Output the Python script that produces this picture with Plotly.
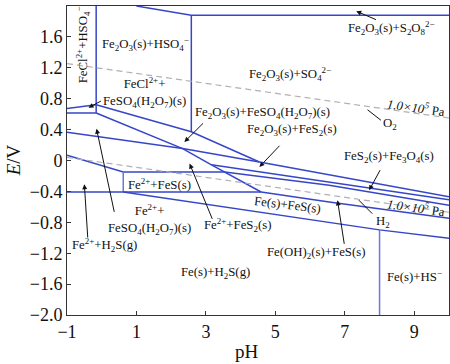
import plotly.graph_objects as go

# ---------------- data (pH, E/V) ----------------
top_ph = [1.0, 2.58, 10.0]
top_E = [2.0, 1.88, 1.88]
v258_ph = [2.58, 2.58]
v258_E = [1.88, 0.372]
v016_ph = [-0.16, -0.16]
v016_E = [2.0, 0.615]
wedge_top_ph = [-1.0, -0.16]
wedge_top_E = [0.672, 0.722]
wedge_bot_ph = [-1.0, -0.16]
wedge_bot_E = [0.615, 0.615]
lineAp_ph = [-0.16, 2.58, 4.54]
lineAp_E = [0.722, 0.372, -0.019]
lineB_ph = [-1.0, 2.33, 4.54]
lineB_E = [0.365, 0.154, -0.019]
lineA_ph = [-0.16, 2.33, 3.16, 4.59]
lineA_E = [0.615, 0.154, -0.056, -0.408]
lineR1_ph = [4.54, 10.0]
lineR1_E = [-0.019, -0.47]
lineP_ph = [3.16, 6.55, 10.0]
lineP_E = [-0.056, -0.279, -0.509]
lineC_ph = [-1.0, 0.62, 3.54, 6.55, 10.0]
lineC_E = [0.067, -0.149, -0.149, -0.321, -0.58]
boxleft_ph = [0.62, 0.62]
boxleft_E = [-0.149, -0.408]
bottom_ph = [-1.0, 4.59, 6.55, 10.0]
bottom_E = [-0.408, -0.408, -0.538, -0.749]
lineD_ph = [0.62, 8.0, 10.0]
lineD_E = [-0.408, -0.898, -1.008]
v8_ph = [8.0, 8.0]
v8_E = [-0.898, -2.0]
o2_ph = [-1.0, 10.0]
o2_E = [1.255, 0.55]
h2_ph = [-1.0, 10.0]
h2_E = [0.04, -0.67]

x_ticks = [-1, 1, 3, 5, 7, 9]
y_ticks = [-2.0, -1.6, -1.2, -0.8, -0.4, 0.0, 0.4, 0.8, 1.2, 1.6, 2.0]
y_ticktext = ["\u22122.0", "\u22121.6", "\u22121.2", "\u22120.8", "\u22120.4", "0",
              "0.4", "0.8", "1.2", "1.6", "2.0"]

BLUE = "#3646c8"
LBLUE = "#6878dc"
FONT = "Liberation Serif, Times New Roman, serif"

fig = go.Figure()

solid = [
    (top_ph, top_E, BLUE), (v258_ph, v258_E, BLUE), (v016_ph, v016_E, BLUE),
    (wedge_top_ph, wedge_top_E, BLUE), (wedge_bot_ph, wedge_bot_E, BLUE),
    (lineAp_ph, lineAp_E, BLUE), (lineB_ph, lineB_E, BLUE), (lineA_ph, lineA_E, BLUE),
    (lineR1_ph, lineR1_E, BLUE), (lineP_ph, lineP_E, BLUE), (lineC_ph, lineC_E, BLUE),
    (boxleft_ph, boxleft_E, LBLUE), (bottom_ph, bottom_E, BLUE), (lineD_ph, lineD_E, BLUE),
    (v8_ph, v8_E, LBLUE),
]
for xs, ys, c in solid:
    fig.add_trace(go.Scatter(x=xs, y=ys, mode="lines", line=dict(color=c, width=1.5),
                             hoverinfo="skip", showlegend=False))
for xs, ys in [(o2_ph, o2_E), (h2_ph, h2_E)]:
    fig.add_trace(go.Scatter(x=xs, y=ys, mode="lines",
                             line=dict(color="#b0b0b0", width=1.2, dash="6px,4px"),
                             hoverinfo="skip", showlegend=False))

labels = [
    ("FeCl<sup>2+</sup>+HSO<sub>4</sub><sup>\u2212</sup>", -0.55, 1.50, -90),
    ("Fe<sub>2</sub>O<sub>3</sub>(s)+HSO<sub>4</sub><sup>\u2212</sup>", 1.26, 1.51, 0),
    ("FeCl<sup>2+</sup>+<br>FeSO<sub>4</sub>(H<sub>2</sub>O<sub>7</sub>)(s)", 1.23, 0.88, 0),
    ("Fe<sub>2</sub>O<sub>3</sub>(s)+SO<sub>4</sub><sup>2\u2212</sup>", 5.43, 1.12, 0),
    ("Fe<sub>2</sub>O<sub>3</sub>(s)+S<sub>2</sub>O<sub>8</sub><sup>2\u2212</sup>", 8.34, 1.71, 0),
    ("Fe<sub>2</sub>O<sub>3</sub>(s)+FeSO<sub>4</sub>(H<sub>2</sub>O<sub>7</sub>)(s)", 4.63, 0.62, 0),
    ("Fe<sub>2</sub>O<sub>3</sub>(s)+FeS<sub>2</sub>(s)", 5.49, 0.39, 0),
    ("FeS<sub>2</sub>(s)+Fe<sub>3</sub>O<sub>4</sub>(s)", 8.28, 0.05, 0),
    ("O<sub>2</sub>", 8.31, 0.47, 0),
    ("<i>1.0\u00d710<sup>5</sup></i> Pa", 9.06, 0.69, 8),
    ("<i>1.0\u00d710<sup>5</sup></i> Pa", 9.06, -0.60, 8),
    ("H<sub>2</sub>", 8.11, -0.79, 0),
    ("Fe<sup>2+</sup>+FeS(s)", 1.66, -0.30, 0),
    ("Fe(s)+FeS(s)", 5.35, -0.58, 7),
    ("Fe<sup>2+</sup>+<br>FeSO<sub>4</sub>(H<sub>2</sub>O<sub>7</sub>)(s)", 1.37, -0.77, 0),
    ("Fe<sup>2+</sup>+H<sub>2</sub>S(g)", 0.08, -1.09, 0),
    ("Fe<sup>2+</sup>+FeS<sub>2</sub>(s)", 3.91, -0.83, 0),
    ("Fe(s)+H<sub>2</sub>S(g)", 3.27, -1.45, 0),
    ("Fe(OH)<sub>2</sub>(s)+FeS(s)", 6.18, -1.20, 0),
    ("Fe(s)+HS<sup>\u2212</sup>", 9.0, -1.50, 0),
]
for txt, x, y, ang in labels:
    fig.add_annotation(x=x, y=y, text=txt, showarrow=False, textangle=ang,
                       font=dict(family=FONT, size=12.8, color="#111"))

# arrows: (tail x, tail y, tip x, tip y, head)
arrows = [
    (7.94, 1.815, 7.33, 1.933, True),
    (0.02, 0.78, -0.38, 0.683, True),
    (2.96, 0.50, 2.38, 0.24, True),
    (5.16, 0.21, 4.54, -0.084, True),
    (8.04, -0.105, 7.70, -0.386, True),
    (7.61, 0.672, 8.04, 0.521, False),
    (7.36, -0.494, 7.79, -0.688, False),
    (0.37, -0.684, -0.15, 0.411, True),
    (-0.40, -1.017, -0.50, -0.308, True),
    (3.20, -0.775, 2.53, -0.04, True),
    (6.99, -1.098, 6.79, -0.516, True),
]
for tx, ty, hx, hy, head in arrows:
    fig.add_annotation(x=hx, y=hy, ax=tx, ay=ty, axref="x", ayref="y", xref="x", yref="y",
                       text="", showarrow=True, arrowhead=2 if head else 0,
                       arrowsize=1.0, arrowwidth=1, arrowcolor="#111")

fig.add_annotation(xref="paper", yref="paper", x=-0.172, y=0.5, text="<i>E</i>/V",
                   showarrow=False, textangle=-90, font=dict(family=FONT, size=19, color="#111"))
fig.add_annotation(xref="paper", yref="paper", x=0.47, y=-0.118, yanchor="middle", text="pH",
                   showarrow=False, font=dict(family=FONT, size=19, color="#111"))

axis_common = dict(showgrid=False, zeroline=False, showline=True, linecolor="#333",
                   linewidth=1, mirror=True, ticks="inside", ticklen=4, tickcolor="#333",
                   tickfont=dict(family=FONT, size=18, color="#111"))
fig.update_xaxes(range=[-1, 10], tickvals=x_ticks, **axis_common)
fig.update_yaxes(range=[-2, 2], tickvals=y_ticks, ticktext=y_ticktext, **axis_common)

fig.update_layout(width=450, height=364, margin=dict(l=67, r=1, t=6, b=49),
                  plot_bgcolor="white", paper_bgcolor="white", showlegend=False)

fig.write_html("out.html", config={"displayModeBar": False},
               post_script="document.body.style.margin='0';")
